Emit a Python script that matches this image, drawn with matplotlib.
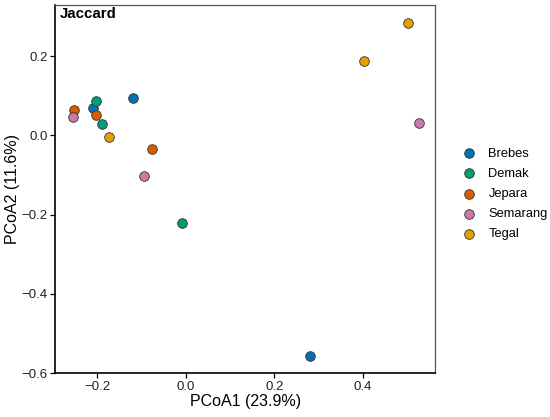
import matplotlib
matplotlib.use("Agg")
import matplotlib.pyplot as plt

plt.rcParams['font.family'] = ['Liberation Sans', 'DejaVu Sans']

groups = ["Brebes", "Demak", "Jepara", "Semarang", "Tegal"]
colors = ["#0072B2", "#009E73", "#D55E00", "#CC79A7", "#E69F00"]

pc1 = {
    "Brebes":   [-0.120, -0.209, 0.281],
    "Demak":    [-0.203, -0.188, -0.009],
    "Jepara":   [-0.251, -0.203, -0.076],
    "Semarang": [-0.254, -0.095, 0.527],
    "Tegal":    [0.502, 0.402, -0.173],
}
pc2 = {
    "Brebes":   [0.095, 0.070, -0.556],
    "Demak":    [0.087, 0.0285, -0.221],
    "Jepara":   [0.063, 0.052, -0.035],
    "Semarang": [0.046, -0.103, 0.032],
    "Tegal":    [0.284, 0.187, -0.005],
}

xticks = [-0.2, 0.0, 0.2, 0.4]
yticks = [-0.6, -0.4, -0.2, 0.0, 0.2]

fig = plt.figure(figsize=(5.5, 4.17), dpi=100)
ax = fig.add_axes([0.1007, 0.1055, 0.690, 0.8825])

for g, c in zip(groups, colors):
    ax.scatter(pc1[g], pc2[g], s=48, color=c, edgecolor="#333333",
               linewidth=0.6, label=g, zorder=3)

ax.set_xlim(-0.294, 0.562)
ax.set_ylim(-0.6, 0.329)
ax.set_xticks(xticks)
ax.set_xticklabels([f"{t:.1f}".replace("-", "\u2212") for t in xticks])
ax.set_yticks(yticks)
ax.set_yticklabels([f"{t:.1f}".replace("-", "\u2212") for t in yticks])
ax.tick_params(axis="both", labelsize=9.5, length=3.5, width=0.9,
               colors="black", labelcolor="#222222", pad=2)

for side in ["left", "bottom"]:
    ax.spines[side].set_linewidth(1.2)
    ax.spines[side].set_color("black")
for side in ["top", "right"]:
    ax.spines[side].set_linewidth(0.9)
    ax.spines[side].set_color("#555555")

ax.set_xlabel("PCoA1 (23.9%)", fontsize=11.5, labelpad=1)
ax.set_ylabel("PCoA2 (11.6%)", fontsize=11.5, labelpad=1)

ax.text(0.012, 0.994, "Jaccard", transform=ax.transAxes, fontsize=10.8,
        fontweight="bold", va="top", ha="left")

handles, labels = ax.get_legend_handles_labels()
fig.legend(handles, labels, loc="center left", bbox_to_anchor=(0.82, 0.535),
           frameon=False, fontsize=9.3, handletextpad=0.5, labelspacing=0.62,
           markerscale=1.0, borderaxespad=0)

fig.savefig("out.png", dpi=100)
